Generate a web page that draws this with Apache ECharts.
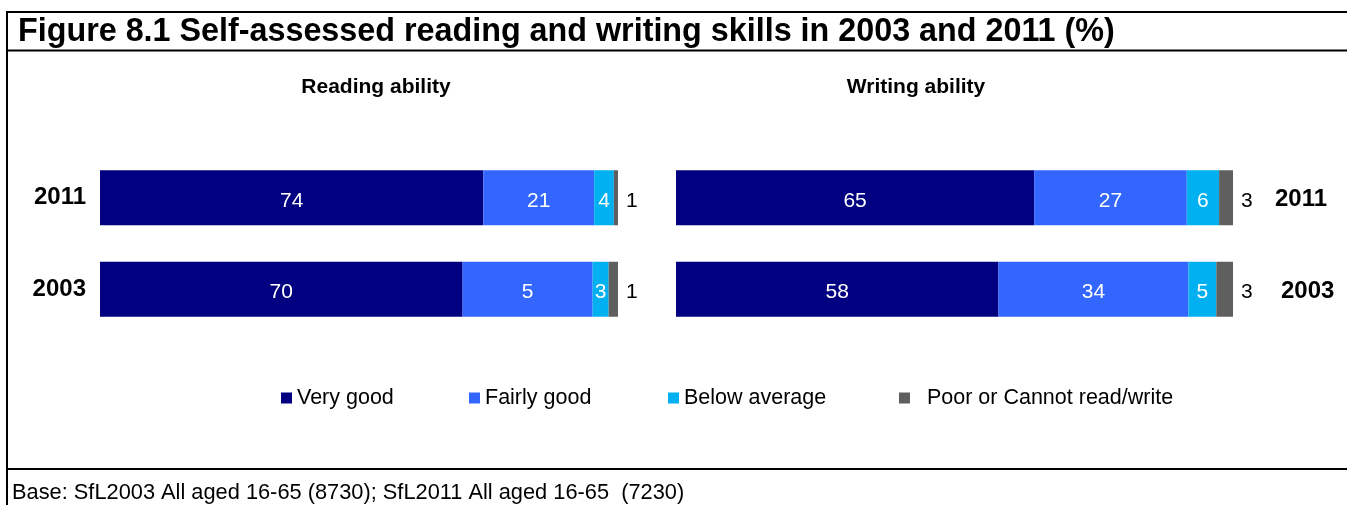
<!DOCTYPE html>
<html><head><meta charset="utf-8">
<script src="https://cdn.jsdelivr.net/npm/echarts@6/dist/echarts.min.js"></script>
<style>html,body{margin:0;padding:0;background:#fff}#c{width:1347px;height:505px}</style>
</head><body><div id="c"></div>
<script>
// Categories (bottom to top)
const years = ['2003', '2011'];
const seriesNames = ['Very good', 'Fairly good', 'Below average', 'Poor or Cannot read/write'];

// Reading ability: bar lengths (%), [2003, 2011]
const readVeryGood = [70.0, 74.0];
const readFairlyGood = [25.1, 21.4];
const readBelowAvg = [3.1, 3.8];
const readPoor = [2.0, 0.8];
// Reading ability: printed labels
const readVeryGoodLbl = ['70', '74'];
const readFairlyGoodLbl = ['5', '21'];
const readBelowAvgLbl = ['3', '4'];
const readPoorLbl = ['1', '1'];

// Writing ability: bar lengths (%), [2003, 2011]
const writeVeryGood = [57.9, 64.3];
const writeFairlyGood = [34.1, 27.4];
const writeBelowAvg = [5.0, 5.8];
const writePoor = [3.0, 2.5];
// Writing ability: printed labels
const writeVeryGoodLbl = ['58', '65'];
const writeFairlyGoodLbl = ['34', '27'];
const writeBelowAvgLbl = ['5', '6'];
const writePoorLbl = ['3', '3'];

const colors = ['#000080', '#3366FF', '#00B0F0', '#5F5F5F'];
const FONT = '"Liberation Sans", Arial, sans-serif';

const chart = echarts.init(document.getElementById('c'), null, {renderer: 'canvas'});

function mkSeries(gi, idx, data, lbls, stack) {
  const outside = idx === 3;
  return {
    name: seriesNames[idx],
    type: 'bar',
    xAxisIndex: gi, yAxisIndex: gi,
    stack: stack,
    barWidth: 55,
    data: data,
    itemStyle: {color: colors[idx]},
    label: {
      show: true,
      position: outside ? 'right' : 'inside',
      distance: 8,
      offset: [0, 3],
      color: outside ? '#000' : '#fff',
      fontFamily: FONT,
      fontSize: 21,
      formatter: p => lbls[p.dataIndex]
    },
    emphasis: {disabled: true},
    animation: false
  };
}

const series = [
  mkSeries(0, 0, readVeryGood, readVeryGoodLbl, 'r'),
  mkSeries(0, 1, readFairlyGood, readFairlyGoodLbl, 'r'),
  mkSeries(0, 2, readBelowAvg, readBelowAvgLbl, 'r'),
  mkSeries(0, 3, readPoor, readPoorLbl, 'r'),
  mkSeries(1, 0, writeVeryGood, writeVeryGoodLbl, 'w'),
  mkSeries(1, 1, writeFairlyGood, writeFairlyGoodLbl, 'w'),
  mkSeries(1, 2, writeBelowAvg, writeBelowAvgLbl, 'w'),
  mkSeries(1, 3, writePoor, writePoorLbl, 'w')
];

const lineStyle = {stroke: '#000', lineWidth: 2};
const legendLefts = [281, 469, 668, 899];

const legends = seriesNames.map((n, i) => ({
  data: [n],
  left: legendLefts[i], top: 387,
  padding: 0,
  itemWidth: 11, itemHeight: 11, itemGap: 0,
  icon: 'rect',
  textStyle: {fontFamily: FONT, fontSize: 21.5, color: '#000'},
  formatter: name => i === 3 ? '  ' + name : name,
  selectedMode: false
}));

chart.setOption({
  animation: false,
  backgroundColor: '#fff',
  grid: [
    {left: 100, top: 152, width: 518, height: 183},
    {left: 676, top: 152, width: 557, height: 183}
  ],
  xAxis: [
    {gridIndex: 0, type: 'value', min: 0, max: 100, show: false},
    {gridIndex: 1, type: 'value', min: 0, max: 100, show: false}
  ],
  yAxis: [
    {gridIndex: 0, type: 'category', data: years,
     axisLine: {show: false}, axisTick: {show: false},
     axisLabel: {margin: 14, color: '#000', fontFamily: FONT, fontWeight: 'bold', fontSize: 24,
       padding: [4, 0, 0, 0]}},
    {gridIndex: 1, type: 'category', data: years, position: 'right',
     axisLine: {show: false}, axisTick: {show: false},
     axisLabel: {margin: 42, color: '#000', fontFamily: FONT, fontWeight: 'bold', fontSize: 24,
       formatter: v => v === '2003' ? '{b|' + v + '}' : '{a|' + v + '}',
       rich: {
         a: {fontFamily: FONT, fontWeight: 'bold', fontSize: 24, color: '#000', padding: [4, 0, 0, 0]},
         b: {fontFamily: FONT, fontWeight: 'bold', fontSize: 24, color: '#000', padding: [4, 0, 0, 6]}
       }}}
  ],
  legend: legends,
  graphic: [
    {type: 'line', shape: {x1: 7, y1: 12, x2: 1347, y2: 12}, style: lineStyle},
    {type: 'line', shape: {x1: 7, y1: 50.5, x2: 1347, y2: 50.5}, style: lineStyle},
    {type: 'line', shape: {x1: 7, y1: 11, x2: 7, y2: 505}, style: lineStyle},
    {type: 'line', shape: {x1: 7, y1: 469, x2: 1347, y2: 469}, style: lineStyle},
    {type: 'text', x: 18, y: 32, style: {text: 'Figure 8.1 Self-assessed reading and writing skills in 2003 and 2011 (%)',
      font: 'bold 32.3px ' + FONT, fill: '#000', textVerticalAlign: 'middle'}},
    {type: 'text', x: 376, y: 87, style: {text: 'Reading ability', font: 'bold 21px ' + FONT, fill: '#000',
      textAlign: 'center', textVerticalAlign: 'middle'}},
    {type: 'text', x: 916, y: 87, style: {text: 'Writing ability', font: 'bold 21px ' + FONT, fill: '#000',
      textAlign: 'center', textVerticalAlign: 'middle'}},
    {type: 'text', x: 12, y: 493, style: {text: 'Base: SfL2003 All aged 16-65 (8730); SfL2011 All aged 16-65  (7230)',
      font: '21.8px ' + FONT, fill: '#000', textVerticalAlign: 'middle'}}
  ],
  series: series
});
</script>
</body></html>
